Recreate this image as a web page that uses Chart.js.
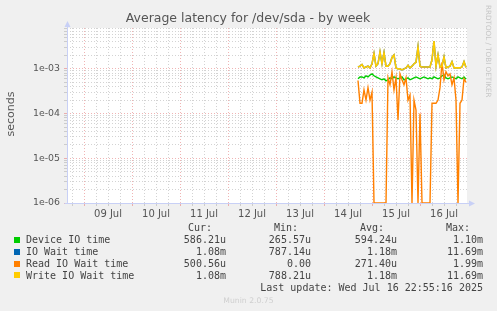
<!DOCTYPE html>
<html>
<head>
<meta charset="utf-8">
<title>Average latency for /dev/sda - by week</title>
<script src="https://cdn.jsdelivr.net/npm/chart.js@4/dist/chart.umd.min.js"></script>
<style>
  html, body { margin: 0; padding: 0; background: #f0f0f0; }
  #wrap { position: relative; width: 497px; height: 311px; overflow: hidden; font-family: "DejaVu Sans", sans-serif; color: #555; }
  #chart { position: absolute; left: 0; top: 0; }
  .t { position: absolute; white-space: pre; line-height: 1; }
  .mono { font-family: "DejaVu Sans Mono", monospace; font-size: 10px; color: #444; }
  .sw { position: absolute; width: 6px; height: 6px; }
</style>
</head>
<body>
<div id="wrap">
  <canvas id="chart" width="497" height="311"></canvas>
  <div class="t" style="left:0;width:497px;text-align:center;top:11.8px;font-size:12.5px;color:#555;margin-left:-0.5px">Average latency for /dev/sda - by week</div>
  <div class="t" style="left:-19px;width:60px;height:12px;line-height:12px;text-align:center;top:108px;font-size:11px;color:#555;transform:rotate(-90deg);transform-origin:50% 50%">seconds</div>
  <div class="t" style="left:492px;top:5px;font-size:7.2px;color:#c4c4c4;transform:rotate(90deg);transform-origin:0 0">RRDTOOL / TOBI OETIKER</div>
  <div id="legend"></div>
  <div class="t" style="left:0;width:497px;text-align:center;top:296.6px;font-size:7.7px;color:#cfcfcf">Munin 2.0.75</div>
</div>
<script>
// time axis: hours since 09 Jul 00:00
const dayLabels = ['09 Jul', '10 Jul', '11 Jul', '12 Jul', '13 Jul', '14 Jul', '15 Jul', '16 Jul'];
const yDecades = [1e-6, 1e-5, 1e-4, 1e-3];
const yTickLabels = ['1e-06', '1e-05', '1e-04', '1e-03'];

const hours = [
  137, 138, 139, 140, 141, 142, 143, 144, 145, 146,
  147, 148, 149, 150, 151, 152, 153, 154, 155, 156,
  157, 158, 159, 160, 161, 162, 163, 164, 165, 166,
  167, 168, 169, 170, 171, 172, 173, 174, 175, 176,
  177, 178, 179, 180, 181, 182, 183, 184, 185, 186,
  187, 188, 189, 190, 191
];

// seconds
const deviceIO = [
  0.00060, 0.00066, 0.00066, 0.00063, 0.00070, 0.00066, 0.00073, 0.00077, 0.00070, 0.00066,
  0.00063, 0.00060, 0.00057, 0.00060, 0.00054, 0.00057, 0.00063, 0.00060, 0.00066, 0.00063,
  0.00060, 0.00063, 0.00066, 0.00057, 0.00060, 0.00063, 0.00057, 0.00060, 0.00063, 0.00066,
  0.00063, 0.00060, 0.00063, 0.00066, 0.00063, 0.00060, 0.00063, 0.00060, 0.00066, 0.00063,
  0.00060, 0.00063, 0.00070, 0.00073, 0.00063, 0.00060, 0.00063, 0.00066, 0.00063, 0.00060,
  0.00066, 0.00063, 0.00060, 0.00066, 0.000586
];
const ioWait = [
  0.00110, 0.00115, 0.00125, 0.00105, 0.00110, 0.00115, 0.00105, 0.00130, 0.00220, 0.00115,
  0.00130, 0.00240, 0.00130, 0.00230, 0.00115, 0.00115, 0.00130, 0.00180, 0.00205, 0.00105,
  0.00100, 0.00100, 0.00095, 0.00100, 0.00105, 0.00120, 0.00105, 0.00115, 0.00130, 0.00140,
  0.00310, 0.00115, 0.00110, 0.00110, 0.00110, 0.00110, 0.00110, 0.00160, 0.00420, 0.00115,
  0.00205, 0.00110, 0.00115, 0.00185, 0.00105, 0.00110, 0.00115, 0.00145, 0.00105, 0.00105,
  0.00105, 0.00105, 0.00110, 0.00145, 0.00108
];
const readWait = [
  0.00055, 0.00017, 0.00017, 0.00034, 0.00020, 0.00038, 0.00020, 0.00030, 0, 0,
  0, 0, 0, 0, 0, 0.00063, 0.00044, 0.00086, 0.00034, 0.00063,
  0.000072, 0.00077, 0.00057, 0.00044, 0.00063, 0.00020, 0.00026, 0, 0.00020, 0.00012,
  0, 0.00010, 0, 0, 0, 0, 0, 0.00017, 0.00017, 0.00017,
  0.00020, 0.00038, 0.00140, 0.00057, 0.00086, 0.00070, 0.00077, 0.00044, 0.00063, 0.00020,
  0, 0.00017, 0.00020, 0.00060, 0.00050
];
const writeWait = [
  0.00110, 0.00115, 0.00125, 0.00105, 0.00110, 0.00115, 0.00105, 0.00130, 0.00220, 0.00115,
  0.00130, 0.00240, 0.00130, 0.00230, 0.00115, 0.00115, 0.00130, 0.00180, 0.00205, 0.00105,
  0.00100, 0.00100, 0.00095, 0.00100, 0.00105, 0.00120, 0.00105, 0.00115, 0.00130, 0.00140,
  0.00310, 0.00115, 0.00110, 0.00110, 0.00110, 0.00110, 0.00110, 0.00160, 0.00420, 0.00115,
  0.00205, 0.00110, 0.00115, 0.00185, 0.00105, 0.00110, 0.00115, 0.00145, 0.00105, 0.00105,
  0.00105, 0.00105, 0.00110, 0.00145, 0.00108
];

const seriesNames = ['Device IO time', 'IO Wait time', 'Read IO Wait time', 'Write IO Wait time'];
const seriesColors = ['#00cc00', '#0066b3', '#ff8000', '#ffcc00'];
const curVals = ['586.21u', '1.08m', '500.56u', '1.08m'];
const minVals = ['265.57u', '787.14u', '0.00', '788.21u'];
const avgVals = ['594.24u', '1.18m', '271.40u', '1.18m'];
const maxVals = ['1.10m', '11.69m', '1.99m', '11.69m'];
const lastUpdate = 'Last update: Wed Jul 16 22:55:16 2025';

const yMin = 1e-6;
const yMax = 8.2e-3;
const minorGrid = 'rgba(175,175,175,0.55)';
const majorGrid = 'rgba(230,130,130,0.6)';
const axisColor = '#c8d0f6';

// log axis can't show zero: pin zero readings to the floor
function points(values) {
  return values.map((v, i) => ({ x: hours[i], y: v > 0 ? v : yMin }));
}

// legend table
const legend = document.getElementById('legend');
function put(text, style, cls) {
  const d = document.createElement('div');
  d.className = 't ' + (cls || '');
  d.textContent = text;
  d.setAttribute('style', style);
  legend.appendChild(d);
}
const headEnds = [212, 298, 384, 470];
const valEnds = [226, 311, 397, 483];
['Cur:', 'Min:', 'Avg:', 'Max:'].forEach((h, i) => {
  put(h, 'right:' + (497 - headEnds[i]) + 'px;top:222.5px', 'mono');
});
const rowTops = [235.2, 247, 258.9, 270.6];
seriesNames.forEach((name, r) => {
  const sw = document.createElement('div');
  sw.className = 'sw';
  sw.style.left = '14px';
  sw.style.top = (rowTops[r] + 1.8) + 'px';
  sw.style.background = seriesColors[r];
  legend.appendChild(sw);
  put(name, 'left:26px;top:' + rowTops[r] + 'px', 'mono');
  [curVals, minVals, avgVals, maxVals].forEach((col, c) => {
    put(col[r], 'right:' + (497 - valEnds[c]) + 'px;top:' + rowTops[r] + 'px', 'mono');
  });
});
put(lastUpdate, 'right:' + (497 - 483) + 'px;top:282.5px', 'mono');

const plotFrame = {
  id: 'plotFrame',
  beforeDraw(chart) {
    const { ctx, chartArea: a } = chart;
    ctx.save();
    ctx.fillStyle = '#ffffff';
    ctx.fillRect(a.left, a.top, a.right - a.left, a.bottom - a.top);
    ctx.restore();
  },
  beforeDatasetsDraw(chart) {
    const { ctx, chartArea: a } = chart;
    const x0 = Math.round(a.left) + 0.5;
    const y0 = Math.round(a.bottom) + 0.5;
    ctx.save();
    ctx.strokeStyle = axisColor;
    ctx.fillStyle = axisColor;
    ctx.lineWidth = 1;
    ctx.beginPath();
    ctx.moveTo(x0, y0);
    ctx.lineTo(x0, a.top - 2);
    ctx.moveTo(x0 - 3, y0);
    ctx.lineTo(a.right + 3, y0);
    ctx.stroke();
    ctx.beginPath();
    ctx.moveTo(x0 - 3, a.top - 1);
    ctx.lineTo(x0 + 3, a.top - 1);
    ctx.lineTo(x0, a.top - 7);
    ctx.closePath();
    ctx.fill();
    ctx.beginPath();
    ctx.moveTo(a.right + 2, y0 - 3);
    ctx.lineTo(a.right + 2, y0 + 3);
    ctx.lineTo(a.right + 8, y0);
    ctx.closePath();
    ctx.fill();
    ctx.restore();
  }
};

function line(label, values, color, order, width) {
  return {
    label: label,
    data: points(values),
    borderColor: color,
    backgroundColor: color,
    borderWidth: width,
    pointRadius: 0,
    tension: 0,
    fill: false,
    order: order
  };
}

new Chart(document.getElementById('chart'), {
  type: 'line',
  data: {
    datasets: [
      line(seriesNames[0], deviceIO, seriesColors[0], 3, 1.4),
      line(seriesNames[1], ioWait, seriesColors[1], 2, 1.4),
      line(seriesNames[2], readWait, seriesColors[2], 1, 1.4),
      line(seriesNames[3], writeWait, seriesColors[3], 0, 1.6)
    ]
  },
  options: {
    responsive: false,
    animation: false,
    events: [],
    layout: { padding: { top: 28, right: 30, left: 0, bottom: 0 } },
    plugins: {
      legend: { display: false },
      title: { display: false },
      tooltip: { enabled: false }
    },
    scales: {
      x: {
        type: 'linear',
        min: -8.5,
        max: 191.5,
        afterFit(scale) { scale.height = 108; },
        afterBuildTicks(scale) {
          const ticks = [];
          for (let h = -6; h <= 186; h += 6) {
            ticks.push({ value: h, major: h % 24 === 0 });
          }
          scale.ticks = ticks;
        },
        grid: {
          color: ctx => (ctx.tick && ctx.tick.major ? majorGrid : minorGrid),
          lineWidth: 1,
          tickLength: 3
        },
        border: { display: false, dash: [1, 2] },
        ticks: {
          autoSkip: false,
          maxRotation: 0,
          padding: 2,
          color: '#555',
          font: { family: 'DejaVu Sans', size: 10 },
          callback: value => {
            const d = (value - 12) / 24;
            return Number.isInteger(d) && dayLabels[d] ? dayLabels[d] : '';
          }
        }
      },
      y: {
        type: 'logarithmic',
        min: yMin,
        max: yMax,
        afterFit(scale) { scale.width = 67; },
        afterBuildTicks(scale) {
          const ticks = [];
          yDecades.forEach(d => {
            for (let m = 1; m <= 9; m++) {
              const v = m * d;
              if (v <= yMax) ticks.push({ value: v, major: m === 1 });
            }
          });
          scale.ticks = ticks;
        },
        grid: {
          color: ctx => (ctx.tick && ctx.tick.major ? majorGrid : minorGrid),
          lineWidth: 1,
          tickLength: 3
        },
        border: { display: false, dash: [1, 2] },
        ticks: {
          autoSkip: false,
          padding: 4,
          color: '#555',
          font: { family: 'DejaVu Sans', size: 9.4 },
          callback: value => {
            const i = yDecades.indexOf(value);
            return i >= 0 ? yTickLabels[i] : '';
          }
        }
      }
    }
  },
  plugins: [plotFrame]
});
</script>
</body>
</html>
